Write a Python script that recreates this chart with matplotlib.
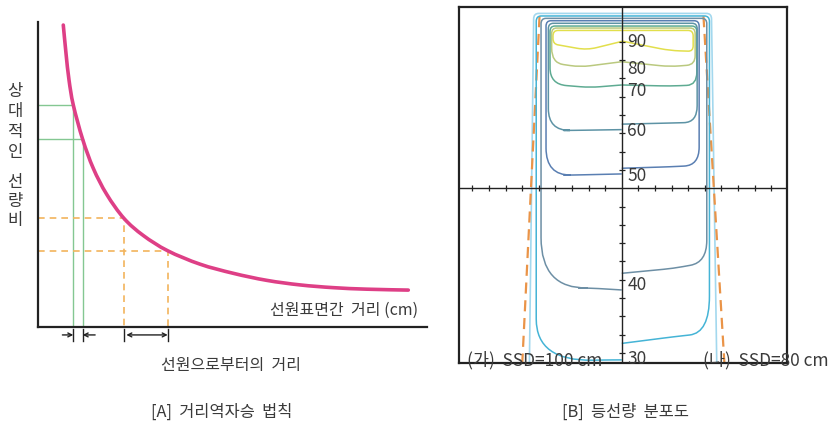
import numpy as np
import matplotlib.pyplot as plt
from matplotlib.path import Path
from matplotlib.patches import PathPatch

plt.rcParams['font.family'] = ['Noto Sans CJK KR', 'DejaVu Sans']

TEXT = '#3a3a3a'
INK = '#222222'

# ---- [A] inverse square law (axis units 0-100 on both axes)
dist = [6.50, 7.20, 7.97, 9.07, 11.49, 14.22, 17.66, 22.11, 27.07, 33.34,
        41.65, 50.21, 58.79, 67.35, 75.91, 84.50, 95.19]
dose = [99.0, 89.7, 81.0, 72.8, 61.5, 52.0, 43.5, 35.6, 30.0, 25.0, 20.6,
        17.6, 15.3, 13.8, 12.9, 12.4, 12.1]
green_idx = [3, 4]
orange_idx = [7, 9]
ylabel_chars = ['상', '대', '적', '인', '선', '량', '비']

# ---- [B] isodose lines, x = off-axis distance, depth downward
levels = [90, 80, 70, 60, 50, 40, 30]
top_depth = [1.38, 1.25, 1.14, 0.99, 0.85, 0.72, 0.59]
label_depth = [2.0, 3.5, 4.67, 6.88, 9.35, 15.29, 19.35]
# (가) SSD=100 cm : left half
left_side = [-4.14, -4.22, -4.32, -4.42, -4.56, -4.86, -5.15]
left_corner = [2.12, 3.15, 4.32, 6.85, 9.30, 15.50, 19.45]
left_mid_x = [-2.1, -2.5, -1.9, -2.9, -2.9, -2.0, -0.6]
left_mid = [2.45, 3.38, 4.50, 6.84, 9.28, 15.45, 19.38]
left_center = [1.98, 3.09, 4.36, 6.80, 9.22, 15.56, 19.38]
# (나) SSD=80 cm : right half
right_side = [4.30, 4.42, 4.52, 4.54, 4.66, 5.12, 5.28]
right_corner = [2.52, 3.25, 4.36, 6.40, 8.75, 14.05, 17.90]
right_mid_x = [2.9, 2.9, 2.9, 2.9, 2.9, 3.1, 3.1]
right_mid = [2.48, 3.36, 4.42, 6.44, 8.83, 14.38, 18.12]
right_center = [1.96, 3.09, 4.36, 6.50, 8.91, 14.65, 18.48]
# open outer line (x at top, x at bottom) and its top depth
outer_left = (-5.30, -5.56)
outer_right = (5.40, 5.72)
outer_top = 0.45
# geometric field edges: (x_top, depth_top, x_bottom)
edge_left = (-4.95, 0.60, -5.99)
edge_right = (4.92, 0.60, 6.18)

level_colors = ['#e2df4c', '#bac97f', '#5eab92', '#5d93a5', '#5a7fb2',
                '#6d8fa5', '#45b4d6']
left_bend = [(0.3, 0.3), (0.8, 0.7), (0.9, 1.0), (1.2, 1.3), (1.5, 1.5),
             (2.8, 2.8), (2.3, 3.4)]
right_bend = [(0.3, 0.3), (0.5, 0.5), (0.7, 0.6), (0.9, 0.8), (1.0, 0.9),
              (1.2, 1.0), (2.0, 1.2)]


def rounded_path(pts, radii):
    """Polyline with each inner vertex replaced by a quadratic curve."""
    verts = [pts[0]]
    codes = [Path.MOVETO]
    for i in range(1, len(pts) - 1):
        p0, p1, p2 = (np.array(pts[j], float) for j in (i - 1, i, i + 1))
        r_in, r_out = radii[i - 1]
        a = p1 + (p0 - p1) * min(r_in / np.linalg.norm(p0 - p1), 1.0)
        c = p1 + (p2 - p1) * min(r_out / np.linalg.norm(p2 - p1), 1.0)
        verts += [a, p1, c]
        codes += [Path.LINETO, Path.CURVE3, Path.CURVE3]
    verts.append(pts[-1])
    codes.append(Path.LINETO)
    return Path(verts, codes)


def smooth_path(xs, ys):
    """Catmull-Rom curve through the given points, as cubic Beziers."""
    p = np.column_stack([xs, ys]).astype(float)
    q = np.vstack([p[0], p, p[-1]])
    verts = [p[0]]
    codes = [Path.MOVETO]
    for i in range(1, len(q) - 2):
        c1 = q[i] + (q[i + 1] - q[i - 1]) / 6
        c2 = q[i + 1] - (q[i + 2] - q[i]) / 6
        verts += [c1, c2, q[i + 1]]
        codes += [Path.CURVE4] * 3
    return Path(verts, codes)


fig = plt.figure(figsize=(8.3, 4.29), dpi=100)

# ================= [A]
ax = fig.add_axes([38 / 830, 102 / 429, 389 / 830, 305 / 429])
ax.set_xlim(0, 100)
ax.set_ylim(0, 100)
for s in ['top', 'right']:
    ax.spines[s].set_visible(False)
for s in ['left', 'bottom']:
    ax.spines[s].set_linewidth(1.6)
    ax.spines[s].set_color(INK)
ax.set_xticks([])
ax.set_yticks([])
ax.patch.set_alpha(0)

for i in green_idx:
    ax.plot([0, dist[i], dist[i]], [dose[i], dose[i], 0], color='#84c792', lw=1.0)
for i in orange_idx:
    ax.plot([0, dist[i], dist[i]], [dose[i], dose[i], 0], color='#f2b45c',
            lw=1.2, dashes=(4, 3))
ax.add_patch(PathPatch(smooth_path(dist, dose), fill=False, edgecolor='#de3f86',
                       lw=2.6, capstyle='round', joinstyle='round', zorder=4))

# distance markers under the axis
ya = -2.6
for i in green_idx + orange_idx:
    ax.plot([dist[i], dist[i]], [-0.7, -4.6], color=INK, lw=1.0, clip_on=False)
arr = dict(color=INK, lw=1.0, shrinkA=0, shrinkB=0, mutation_scale=7)
g1, g2 = dist[green_idx[0]], dist[green_idx[1]]
o1, o2 = dist[orange_idx[0]], dist[orange_idx[1]]
ax.annotate('', xy=(g1, ya), xytext=(g1 - 2.8, ya), annotation_clip=False,
            arrowprops=dict(arrowstyle='->', **arr))
ax.annotate('', xy=(g2, ya), xytext=(g2 + 3.2, ya), annotation_clip=False,
            arrowprops=dict(arrowstyle='->', **arr))
ax.annotate('', xy=(o2, ya), xytext=(o1 + 0.6, ya), annotation_clip=False,
            arrowprops=dict(arrowstyle='<->', **arr))

ax.text(97.7, 5.6, '선원표면간  거리 (cm)', ha='right', va='center',
        fontsize=11.5, color=TEXT)
ax.text(49.6, -12.5, '선원으로부터의  거리', ha='center', va='center',
        fontsize=11.5, color=TEXT, clip_on=False)
for k, ch in enumerate(ylabel_chars):
    y = 77.1 - 6.6 * k if k < 4 else 47.4 - 6.3 * (k - 4)
    ax.text(-5.9, y, ch, ha='center', va='center', fontsize=12,
            color=TEXT, clip_on=False)

# ================= [B]
bx = fig.add_axes([459 / 830, 66 / 429, 328 / 830, 356 / 429])
bx.set_xlim(-9.8, 9.95)
bx.set_ylim(19.55, 0.1)
bx.set_xticks([])
bx.set_yticks([])
for s in bx.spines.values():
    s.set_linewidth(1.6)
    s.set_color(INK)

outer = rounded_path([(outer_left[1], 19.55), (outer_left[0], outer_top),
                      (outer_right[0], outer_top), (outer_right[1], 19.55)],
                     [(0.3, 0.3), (0.3, 0.3)])
bx.add_patch(PathPatch(outer, fill=False, edgecolor='#a3d8ee', lw=1.2))
for x0, d0, x1 in [edge_left, edge_right]:
    bx.plot([x0, x1], [d0, 19.55], color='#ea9448', lw=1.6, dashes=(5, 3))

for i, lev in enumerate(levels):
    t = top_depth[i]
    halves = [
        ([(0, t), (left_side[i], t), (left_side[i], left_corner[i]),
          (left_mid_x[i], left_mid[i]), (0, left_center[i])], left_bend[i]),
        ([(0, t), (right_side[i], t), (right_side[i], right_corner[i]),
          (right_mid_x[i], right_mid[i]), (0, right_center[i])], right_bend[i]),
    ]
    for pts, bend in halves:
        path = rounded_path(pts, [(0.3, 0.3), bend, (0.6, 0.6)])
        bx.add_patch(PathPatch(path, fill=False, edgecolor=level_colors[i],
                               lw=1.1, zorder=2))
    bx.text(0.34, label_depth[i], str(lev), ha='left', va='center',
            fontsize=12.5, color=TEXT, zorder=5)

bx.axvline(0, color=INK, lw=1.0, zorder=3)
bx.axhline(10, color=INK, lw=1.0, zorder=3)
x_ticks = [k for k in range(-9, 10) if k != 0]
d_ticks = [k for k in range(2, 20) if k != 10]
bx.plot(x_ticks, [10] * len(x_ticks), ls='none', marker='|', ms=4,
        mew=0.9, color=INK, zorder=3)
bx.plot([0] * len(d_ticks), d_ticks, ls='none', marker='_', ms=5,
        mew=0.9, color=INK, zorder=3)

bx.text(-9.32, 19.39, '(가)  SSD=100 cm', ha='left', va='center',
        fontsize=12.5, color=TEXT, zorder=5)
bx.text(4.9, 19.39, '(나)  SSD=80 cm', ha='left', va='center',
        fontsize=12.5, color=TEXT, zorder=5, clip_on=False)

fig.text(222 / 830, 1 - 412 / 429, '[A]  거리역자승  법칙', ha='center',
         va='center', fontsize=11.8, color=TEXT)
fig.text(625 / 830, 1 - 412 / 429, '[B]  등선량  분포도', ha='center',
         va='center', fontsize=11.8, color=TEXT)

fig.savefig('out.png', dpi=100)
